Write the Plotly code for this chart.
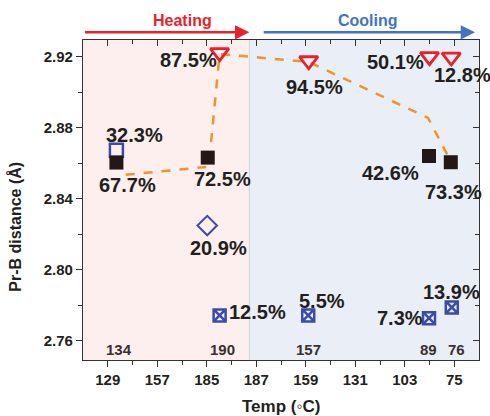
import numpy as np
import plotly.graph_objects as go

# ---- data ----
tick_labels = ["129", "157", "185", "187", "159", "131", "103", "75"]
tick_pos = list(range(len(tick_labels)))

black_x = [0.175, 2.02, 6.49, 6.93]
black_y = [2.8603, 2.8631, 2.8640, 2.8605]
black_lbl = ["67.7%", "72.5%", "42.6%", "73.3%"]

bsq_x = [0.175]
bsq_y = [2.8672]
bsq_lbl = ["32.3%"]

tri_x = [2.26, 4.06, 6.50, 6.94]
tri_y = [2.9223, 2.9177, 2.9200, 2.9198]
tri_lbl = ["87.5%", "94.5%", "50.1%", "12.8%"]

dia_x = [2.01]
dia_y = [2.8248]
dia_lbl = ["20.9%"]

sqx_x = [2.26, 4.05, 6.49, 6.95]
sqx_y = [2.7741, 2.7741, 2.7726, 2.7786]
sqx_lbl = ["12.5%", "5.5%", "7.3%", "13.9%"]

guide_x = [0.363, 2.04, 2.26, 4.06, 6.47, 6.93]
guide_y = [2.8534, 2.8580, 2.9215, 2.9170, 2.8855, 2.8610]

count_x = [0.22, 2.31, 4.05, 6.47, 7.04]
count_lbl = ["134", "190", "157", "89", "76"]

split_x = 2.86
x_range = [-0.5, 7.5]
y_range = [2.749, 2.9294]

FONT = "Liberation Sans, Arial, sans-serif"
TXT = "#231f20"
RED = "#e8212b"
BLUE = "#3b4ba8"
BLK = "#231815"
ORANGE = "#f0932c"
ARROW_BLUE = "#4472c4"

fig = go.Figure()

fig.add_trace(go.Scatter(x=guide_x, y=guide_y, mode="lines",
                         line=dict(color=ORANGE, width=2.5, dash="dash"),
                         hoverinfo="skip", showlegend=False))
fig.add_trace(go.Scatter(x=bsq_x, y=bsq_y, mode="markers",
                         marker=dict(symbol="square-open", size=13, color=BLUE, line=dict(width=2.5, color=BLUE)),
                         showlegend=False))
fig.add_trace(go.Scatter(x=black_x, y=black_y, mode="markers",
                         marker=dict(symbol="square", size=14, color=BLK, line=dict(width=0)),
                         showlegend=False))
fig.add_trace(go.Scatter(x=tri_x, y=tri_y, mode="markers",
                         marker=dict(symbol="triangle-down-open", size=16, color=RED, line=dict(width=2.8, color=RED)),
                         showlegend=False))
fig.add_trace(go.Scatter(x=dia_x, y=dia_y, mode="markers",
                         marker=dict(symbol="diamond-open", size=15, color=BLUE, line=dict(width=2, color=BLUE)),
                         showlegend=False))
fig.add_trace(go.Scatter(x=sqx_x, y=sqx_y, mode="markers",
                         marker=dict(symbol="square-x-open", size=12, color=BLUE, line=dict(width=2.5, color=BLUE)),
                         showlegend=False))
# dummy trace for the mirrored (inward) top/right axes
fig.add_trace(go.Scatter(x=[None], y=[None], xaxis="x2", yaxis="y2", showlegend=False, hoverinfo="skip"))

# percentage labels (pixel offsets from the marker)
def add_labels(xs, ys, labels, shifts):
    for x, y, t, (dx, dy) in zip(xs, ys, labels, shifts):
        fig.add_annotation(x=x, y=y, xref="x", yref="y", text=t, showarrow=False,
                           xshift=dx, yshift=dy, xanchor="center", yanchor="middle",
                           font=dict(family=FONT, size=20, color=TXT, weight="bold"))

add_labels(bsq_x, bsq_y, bsq_lbl, [(17.6, 15.5)])
add_labels(black_x, black_y, black_lbl, [(11, -22.3), (14.4, -21.6), (-39, -17.3), (2.3, -29.4)])
add_labels(tri_x, tri_y, tri_lbl, [(-31.3, -7.3), (6.2, -26.6), (-34.3, -5), (11.5, -18)])
add_labels(dia_x, dia_y, dia_lbl, [(11.3, -22.6)])
add_labels(sqx_x, sqx_y, sqx_lbl, [(37.4, 3.4), (13.3, 14), (-29, 0), (0, 15)])

for x, t in zip(count_x, count_lbl):
    fig.add_annotation(x=x, y=0.034, xref="x", yref="paper", text=t, showarrow=False,
                       xanchor="center", yanchor="middle",
                       font=dict(family=FONT, size=15, color="#3a3030", weight="bold"))

# background regions
fig.add_shape(type="rect", xref="x", yref="paper", x0=x_range[0], x1=split_x, y0=0, y1=1,
              fillcolor="#fcefed", line=dict(width=0), layer="below")
fig.add_shape(type="rect", xref="x", yref="paper", x0=split_x, x1=x_range[1], y0=0, y1=1,
              fillcolor="#eaeff7", line=dict(width=0), layer="below")
fig.add_shape(type="line", xref="x", yref="paper", x0=split_x, x1=split_x, y0=0, y1=1,
              line=dict(color="#cdd1d6", width=1), layer="below")

# heating / cooling arrows
fig.add_annotation(x=split_x, y=1.024, xref="x", yref="paper", ax=-0.49, ay=0, axref="x", ayref="pixel",
                   text="", showarrow=True, arrowhead=2, arrowsize=1.1, arrowwidth=2.6, arrowcolor=RED)
fig.add_annotation(x=7.42, y=1.024, xref="x", yref="paper", ax=3.12, ay=0, axref="x", ayref="pixel",
                   text="", showarrow=True, arrowhead=2, arrowsize=1.1, arrowwidth=2.6, arrowcolor=ARROW_BLUE)
fig.add_annotation(x=1.51, y=1.06, xref="x", yref="paper", text="Heating", showarrow=False,
                   xanchor="center", yanchor="middle",
                   font=dict(family=FONT, size=16, color=RED, weight="bold"))
fig.add_annotation(x=5.26, y=1.06, xref="x", yref="paper", text="Cooling", showarrow=False,
                   xanchor="center", yanchor="middle",
                   font=dict(family=FONT, size=16, color=ARROW_BLUE, weight="bold"))

# axis titles
fig.add_annotation(x=-0.1717, y=0.4166, xref="paper", yref="paper", text="Pr-B distance (Å)",
                   textangle=-90, showarrow=False, xanchor="center", yanchor="middle",
                   font=dict(family=FONT, size=16, color=TXT, weight="bold"))
fig.add_annotation(x=0.501, y=-0.146, xref="paper", yref="paper", text="Temp (◦C)",
                   showarrow=False, xanchor="center", yanchor="middle",
                   font=dict(family=FONT, size=17, color=TXT, weight="bold"))

minor_x = list(np.arange(0.5, 7.0, 1.0))
y_major = list(np.round(np.arange(2.76, 2.921, 0.04), 2))
y_minor = list(np.round(np.arange(2.78, 2.921, 0.04), 2))

axis_font = dict(family=FONT, size=15, color=TXT, weight="bold")
fig.update_layout(
    width=490, height=416,
    margin=dict(l=83, r=11, t=40, b=56),
    paper_bgcolor="white", plot_bgcolor="white",
    showlegend=False,
    xaxis=dict(range=x_range, tickmode="array", tickvals=tick_pos, ticktext=tick_labels,
               ticks="outside", ticklen=6, tickwidth=1.2, tickcolor="#333",
               minor=dict(tickmode="array", tickvals=minor_x, ticks="outside", ticklen=3.5, tickcolor="#333"),
               showline=True, linecolor="#333", linewidth=1.2, showgrid=False, zeroline=False,
               tickfont=axis_font),
    yaxis=dict(range=y_range, tickmode="array", tickvals=y_major, tickformat=".2f",
               ticks="outside", ticklen=6, tickwidth=1.2, tickcolor="#333",
               minor=dict(tickmode="array", tickvals=y_minor, ticks="outside", ticklen=3.5, tickcolor="#333"),
               showline=True, linecolor="#333", linewidth=1.2, showgrid=False, zeroline=False,
               tickfont=axis_font),
    xaxis2=dict(range=x_range, overlaying="x", side="top", tickmode="array", tickvals=tick_pos,
                ticks="inside", ticklen=6, tickwidth=1.2, tickcolor="#333", showticklabels=False,
                minor=dict(tickmode="array", tickvals=minor_x, ticks="inside", ticklen=3.5, tickcolor="#333"),
                showline=True, linecolor="#333", linewidth=1.2, showgrid=False, zeroline=False),
    yaxis2=dict(range=y_range, overlaying="y", side="right", tickmode="array", tickvals=y_major,
                ticks="inside", ticklen=6, tickwidth=1.2, tickcolor="#333", showticklabels=False,
                minor=dict(tickmode="array", tickvals=y_minor, ticks="inside", ticklen=3.5, tickcolor="#333"),
                showline=True, linecolor="#333", linewidth=1.2, showgrid=False, zeroline=False),
)

fig.write_html("out.html")
